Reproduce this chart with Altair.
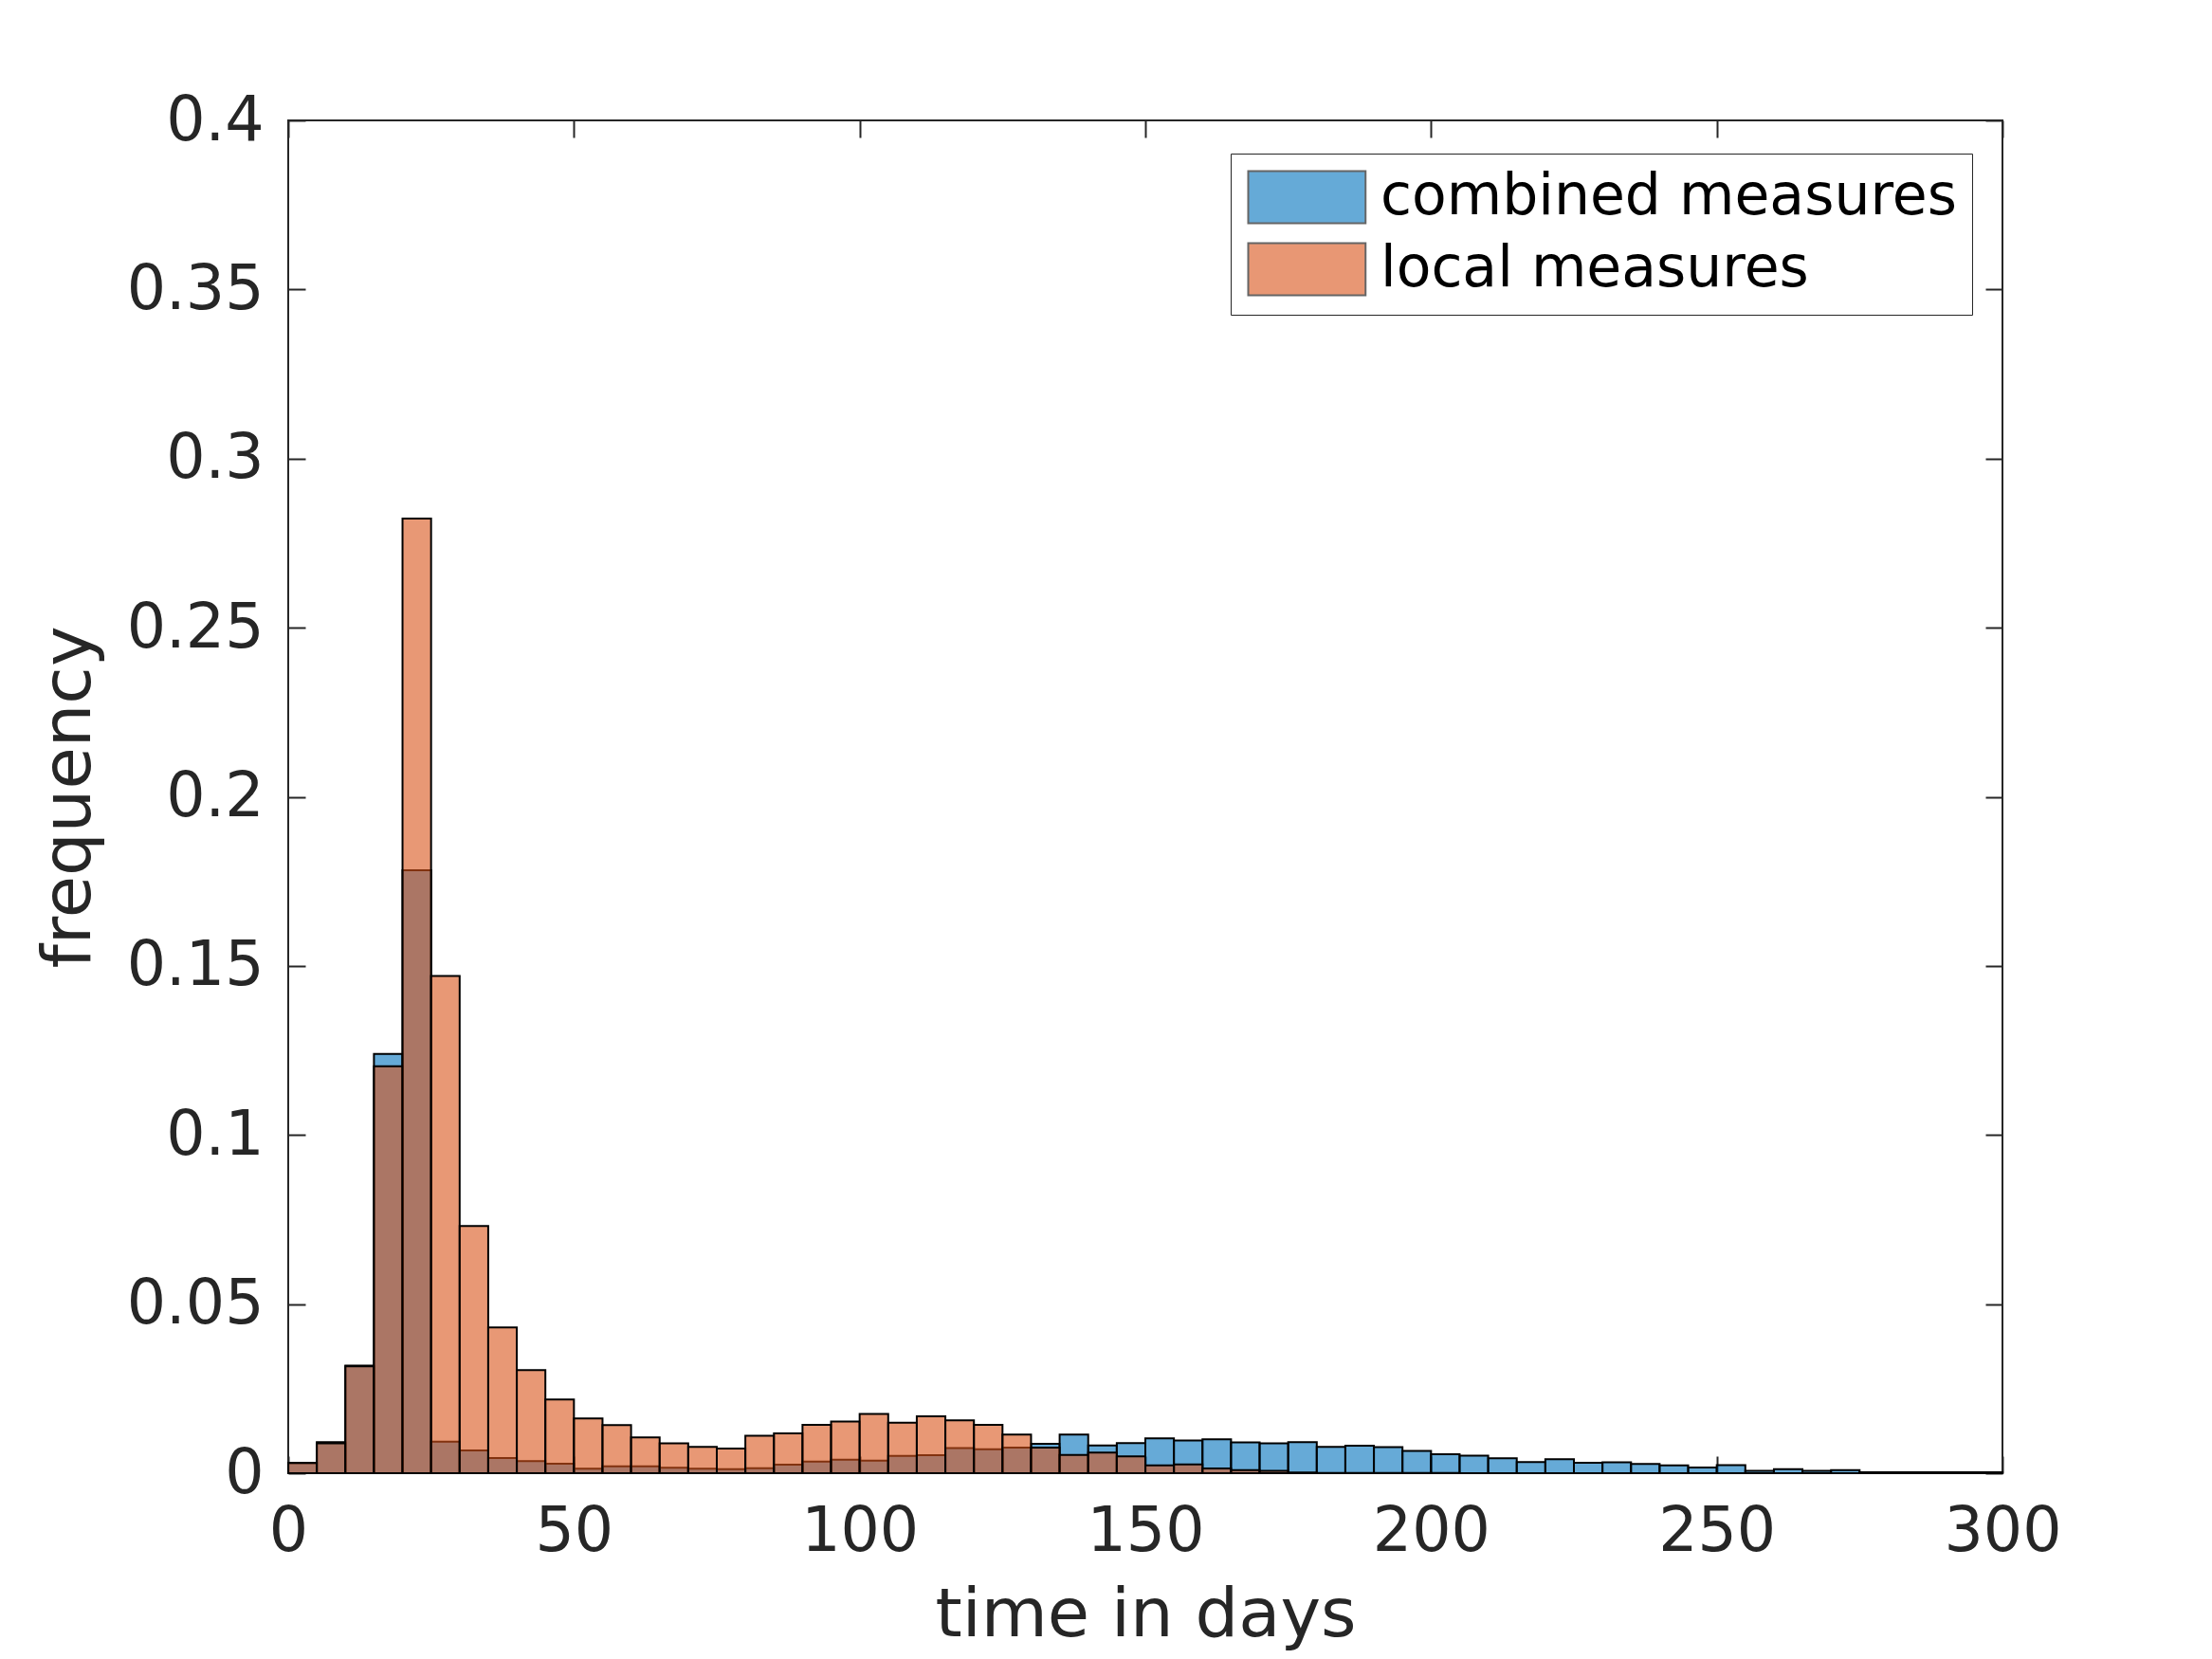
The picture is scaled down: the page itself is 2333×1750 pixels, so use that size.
import altair as alt
import pandas as pd

# bin left edges (days), bin width 5 days
bin_starts = list(range(0, 300, 5))
bin_width = 5

series_names = ["combined measures", "local measures"]

combined = [
    0.0030, 0.0092, 0.0318, 0.1240, 0.1783, 0.0093, 0.0067, 0.0045, 0.0036, 0.0028,
    0.0013, 0.0020, 0.0020, 0.0016, 0.0013, 0.0012, 0.0015, 0.0025, 0.0034, 0.0040,
    0.0037, 0.0051, 0.0053, 0.0074, 0.0071, 0.0076, 0.0087, 0.0114, 0.0082, 0.0089,
    0.0103, 0.0097, 0.0100, 0.0091, 0.0088, 0.0092, 0.0078, 0.0081, 0.0077, 0.0066,
    0.0056, 0.0052, 0.0044, 0.0033, 0.0041, 0.0031, 0.0032, 0.0027, 0.0023, 0.0017,
    0.0024, 0.0007, 0.0012, 0.0007, 0.0009, 0.0003, 0.0003, 0.0003, 0.0003, 0.0003,
]

local = [
    0.0030, 0.0088, 0.0316, 0.1203, 0.2823, 0.1470, 0.0731, 0.0431, 0.0305, 0.0218,
    0.0162, 0.0142, 0.0106, 0.0088, 0.0078, 0.0073, 0.0111, 0.0118, 0.0143, 0.0153,
    0.0175, 0.0149, 0.0168, 0.0156, 0.0143, 0.0114, 0.0076, 0.0054, 0.0061, 0.0050,
    0.0023, 0.0026, 0.0014, 0.0009, 0.0007, 0.0002, 0.0001, 0.0001, 0.0001, 0.0001,
    0.0001, 0.0000, 0.0000, 0.0000, 0.0000, 0.0000, 0.0000, 0.0000, 0.0000, 0.0000,
    0.0000, 0.0000, 0.0000, 0.0000, 0.0000, 0.0000, 0.0000, 0.0000, 0.0000, 0.0000,
]

x_ticks = [0, 50, 100, 150, 200, 250, 300]
y_ticks = [0, 0.05, 0.1, 0.15, 0.2, 0.25, 0.3, 0.35, 0.4]
series_colors = ["#0072BD", "#D95319"]

rows = []
for name, vals in zip(series_names, [combined, local]):
    for s, v in zip(bin_starts, vals):
        rows.append({"start": s, "end": s + bin_width, "freq": v, "series": name})
df = pd.DataFrame(rows)

FONT = "DejaVu Sans"
TXT = "#262626"

x_scale = alt.Scale(domain=[0, 300], nice=False, zero=False, padding=0)
y_scale = alt.Scale(domain=[0, 0.4], nice=False, padding=0)

base_axis = dict(
    grid=False, domain=False, tickSize=18, offset=-18, tickWidth=2,
    tickColor=TXT, labelColor=TXT, titleColor=TXT, labelFont=FONT,
    titleFont=FONT, titleFontWeight="normal", labelFlush=False,
)

x_axis = alt.Axis(values=x_ticks, title="time in days", labelPadding=30,
                  titlePadding=20, labelFontSize=65, titleFontSize=72,
                  **base_axis)
y_axis = alt.Axis(values=y_ticks, format="~g", title="frequency",
                  labelPadding=26, titlePadding=24, labelFontSize=65,
                  titleFontSize=72, **base_axis)
x_top = alt.Axis(values=x_ticks, orient="top", labels=False, title=None,
                 **base_axis)
y_right = alt.Axis(values=y_ticks, orient="right", labels=False, title=None,
                   **base_axis)

# swatch 124 x 55 px: path scaled by sqrt(size)/2 = 27.5
legend = alt.Legend(
    title=None, orient="none", legendX=994, legendY=35,
    symbolType="M-1,-1H3.5V1H-1Z", symbolSize=3025,
    symbolStrokeColor="black", symbolStrokeWidth=2, symbolOpacity=0.6,
    labelFont=FONT, labelFontSize=60, labelColor="black", labelOffset=82,
    rowPadding=12, padding=16, strokeColor=TXT, fillColor="white",
    labelLimit=1000,
)

bars = alt.Chart(df).mark_rect(
    fillOpacity=0.6, stroke="black", strokeWidth=2, strokeOpacity=1
).encode(
    x=alt.X("start:Q", scale=x_scale, axis=x_axis),
    x2="end:Q",
    y=alt.Y("freq:Q", scale=y_scale, axis=y_axis),
    y2=alt.datum(0),
    color=alt.Color("series:N",
                    scale=alt.Scale(domain=series_names, range=series_colors),
                    legend=legend),
)

mirror = alt.Chart(df).mark_rule(opacity=0).encode(
    x=alt.X("start:Q", scale=x_scale, axis=x_top),
    y=alt.Y("freq:Q", scale=y_scale, axis=y_right),
)

chart = alt.layer(bars, mirror).resolve_axis(
    x="independent", y="independent"
).properties(
    width=1808, height=1427,
    autosize=alt.AutoSizeParams(type="none"),
    padding={"left": 296, "top": 119, "right": 213, "bottom": 194},
    background="white",
).configure_view(stroke=TXT, strokeWidth=2)

chart.save("out.html", embed_options={"renderer": "svg", "actions": False})
